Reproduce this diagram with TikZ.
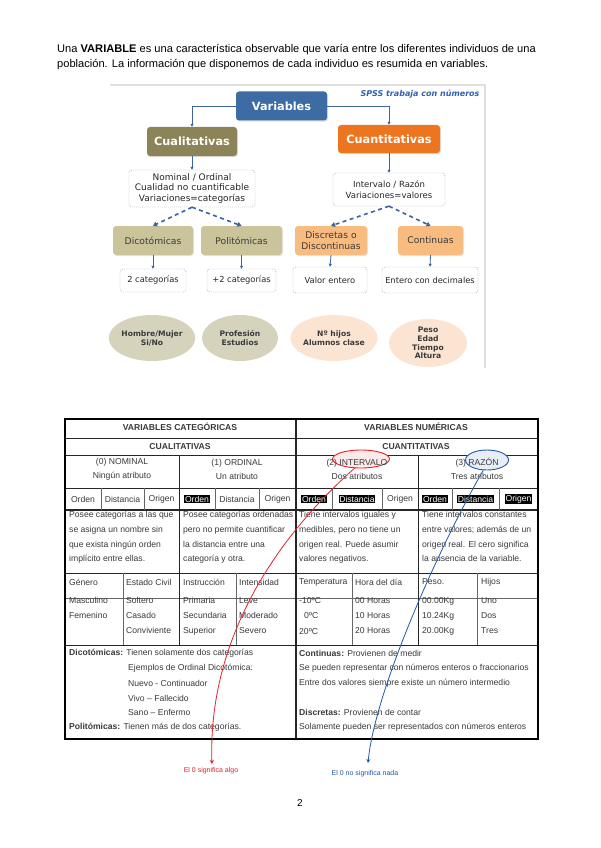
\documentclass[tikz,border=0pt]{standalone}
\usepackage{fontspec}
\setmainfont{Liberation Sans}
\newfontfamily\verd{DejaVu Sans}
\usetikzlibrary{arrows.meta,shapes.geometric,shadows}
\definecolor{varblue}{HTML}{3D6CA5}
\definecolor{olive}{HTML}{8C8358}
\definecolor{orng}{HTML}{EE7520}
\definecolor{lolive}{HTML}{CBC49B}
\definecolor{peach}{HTML}{F9BC80}
\definecolor{eolive}{HTML}{D6D3BD}
\definecolor{epeach}{HTML}{FCE4D2}
\definecolor{arrblue}{HTML}{3B64A0}
\definecolor{tgray}{HTML}{3A3A3A}
\definecolor{spss}{HTML}{3060B0}
\definecolor{annred}{HTML}{E8202A}
\definecolor{annblue}{HTML}{2458A8}
\tikzset{
  mainbox/.style={rounded corners=3pt, text=white, font=\verd\bfseries\fontsize{11.3}{12.5}\selectfont,
    minimum height=29pt, inner sep=1pt, drop shadow={opacity=0.25,shadow xshift=1pt,shadow yshift=-1.2pt}},
  catbox/.style={rounded corners=3pt, text=tgray, font=\verd\fontsize{9.2}{10.5}\selectfont, align=center,
    minimum height=29pt, inner sep=1pt, drop shadow={opacity=0.2,shadow xshift=1pt,shadow yshift=-1pt}},
  dbox/.style={draw=gray!80, dash pattern=on 1pt off 1pt, rounded corners=3pt, fill=white, align=center,
    text=black!85, font=\verd\fontsize{8.3}{9.5}\selectfont, inner sep=1pt},
  ell/.style={ellipse, align=center, inner sep=0pt, text=tgray, font=\verd\bfseries\fontsize{7.6}{9}\selectfont},
  conn/.style={draw=arrblue, line width=0.8pt, -{Triangle[length=3pt,width=3pt]}},
  dconn/.style={draw=arrblue, line width=1.6pt, dash pattern=on 4pt off 3.5pt, -{Triangle[length=4pt,width=5pt]}},
  tt/.style={text=tgray, font=\fontsize{8.6}{10}\selectfont, inner sep=0pt},
  tw/.style={tt, anchor=west},
  th/.style={tt, font=\bfseries\fontsize{8.6}{10}\selectfont},
  hl/.style={tt, fill=black, text=white, inner sep=0.8pt},
  grid/.style={draw=black!85, line width=0.9pt},
  sgrid/.style={draw=black!60, line width=0.7pt}
}
\begin{document}
\begin{tikzpicture}[x=1pt,y=-1pt]
\useasboundingbox[fill=white] (0,0) rectangle (600,848);

% ---------- paragraph ----------
\node[anchor=west, inner sep=0pt, font=\fontsize{11.1}{13}\selectfont] (p1) at (57,50)
  {Una \textbf{VARIABLE} es una característica observable que varía entre los diferentes individuos de una};
\node[anchor=west, inner sep=0pt, font=\fontsize{11.1}{13}\selectfont] (p2) at (57,65)
  {población. La información que disponemos de cada individuo es resumida en variables.};

% ---------- top diagram ----------
\draw[gray!25, line width=1.5pt] (110,85) -- (485,85) -- (485,368);
\node[font=\verd\bfseries\itshape\fontsize{8}{9}\selectfont, text=spss, inner sep=0pt] (spss) at (420,94) {SPSS trabaja con números};

\node[mainbox, fill=varblue, minimum width=91pt] (var) at (281.5,106) {Variables};
\node[mainbox, fill=olive, minimum width=90pt] (cual) at (192,141.5) {Cualitativas};
\node[mainbox, fill=orng, minimum width=102pt, minimum height=28pt] (cuan) at (389,139) {Cuantitativas};
\draw[conn] (var.west) -| (cual.north);
\draw[conn] (var.east) -| (cuan.north);

\node[dbox, minimum width=126pt, minimum height=37pt, font=\verd\fontsize{9}{10.3}\selectfont] (d1) at (192,188.5)
  {Nominal / Ordinal\\Cualidad no cuantificable\\Variaciones=categorías};
\node[dbox, minimum width=112pt, minimum height=33pt, font=\verd\fontsize{8.5}{10.8}\selectfont] (d2) at (389,189.5)
  {Intervalo / Razón\\Variaciones=valores};
\draw[conn] (cual.south) -- (d1.north);
\draw[conn] (cuan.south) -- (d2.north);

\node[catbox, fill=lolive, minimum width=80pt] (dico) at (153,240.5) {Dicotómicas};
\node[catbox, fill=lolive, minimum width=81pt] (poli) at (241.5,240.5) {Politómicas};
\node[catbox, fill=peach, minimum width=72pt] (disc) at (331,240.5) {Discretas o\\Discontinuas};
\node[catbox, fill=peach, minimum width=65pt] (cont) at (430.5,240.5) {Continuas};
\draw[dconn] (d1.south) -- (dico.north);
\draw[dconn] (d1.south) -- (poli.north);
\draw[dconn] (d2.south) -- (disc.north);
\draw[dconn] (d2.south) -- (cont.north);

\node[dbox, minimum width=66pt, minimum height=23pt] (c2) at (153,280.5) {2 categorías};
\node[dbox, minimum width=69pt, minimum height=23pt] (c3) at (241.5,280.5) {+2 categorías};
\node[dbox, minimum width=74pt, minimum height=26pt] (ve) at (330,280) {Valor entero};
\node[dbox, minimum width=96pt, minimum height=26pt] (ed) at (430,280) {Entero con decimales};
\draw[conn] (dico.south) -- (c2.north);
\draw[conn] (poli.south) -- (c3.north);
\draw[conn] (disc.south) -- (ve.north);
\draw[conn] (cont.south) -- (ed.north);

\node[ell, fill=eolive, minimum width=76pt, minimum height=46pt] (e1) at (152,338) {Hombre/Mujer\\Si/No};
\node[ell, fill=eolive, minimum width=76pt, minimum height=46pt] (e2) at (240,338) {Profesión\\Estudios};
\node[ell, fill=epeach, minimum width=78pt, minimum height=46pt] (e3) at (334,338) {Nº hijos\\Alumnos clase};
\node[ell, fill=epeach, minimum width=78pt, minimum height=48pt, font=\verd\bfseries\fontsize{7.6}{8.6}\selectfont] (e4) at (428,343) {Peso\\Edad\\Tiempo\\Altura};

% ---------- table grid ----------
\draw[grid] (65,438) -- (538,438);
\draw[grid] (65,455) -- (538,455);
\draw[grid] (65,488) -- (538,488);
\draw[grid, line width=1.4pt] (65,510) -- (538,510);
\draw[grid] (65,573) -- (538,573);
\draw[sgrid] (65,598) -- (538,598);
\draw[grid] (65,645) -- (538,645);
\draw[grid, line width=1.4pt] (296,419) -- (296,739);
\draw[grid] (179,455) -- (179,645);
\draw[grid] (418,455) -- (418,645);
\foreach \xx in {101,144,215,259,332,382,452,499} \draw[sgrid] (\xx,488) -- (\xx,510);
\foreach \xx in {123,236,352,477} \draw[sgrid] (\xx,573) -- (\xx,645);
\draw[black, line width=2.6pt] (65,419) rectangle (538,739);

% ---------- annotation ellipses (under text) ----------
\node[draw=annred, fill=annred!10, line width=0.9pt, ellipse, minimum width=57pt, minimum height=18pt, inner sep=0pt] (redell) at (361,459) {};
\node[draw=annblue, fill=annblue!10, line width=0.9pt, ellipse, minimum width=43pt, minimum height=20pt, inner sep=0pt] (blueell) at (487,460) {};

% ---------- table text ----------
\node[th] (h1) at (180,427) {VARIABLES CATEGÓRICAS};
\node[th] (h2) at (416,427) {VARIABLES NUMÉRICAS};
\node[th] (h3) at (180,447) {CUALITATIVAS};
\node[th] (h4) at (416,447) {CUANTITATIVAS};
\node[tt, align=center, font=\fontsize{8.6}{14}\selectfont] (n0) at (122,469) {(0) NOMINAL\\Ningún atributo};
\node[tt, align=center, font=\fontsize{8.6}{14}\selectfont] (n1) at (237,469) {(1) ORDINAL\\Un atributo};
\node[tt, align=center, font=\fontsize{8.6}{14}\selectfont] (n2) at (357,469) {(2) INTERVALO\\Dos atributos};
\node[tt, align=center, font=\fontsize{8.6}{14}\selectfont] (n3) at (477,469) {(3) RAZÓN\\Tres atributos};

\node[tt] (o1) at (83,499) {Orden};
\node[tt] (o2) at (122.5,499) {Distancia};
\node[tt] (o3) at (161.5,499) {Origen};
\node[hl] (o4) at (197,499) {Orden};
\node[tt] (o5) at (237,499) {Distancia};
\node[tt] (o6) at (277.5,499) {Origen};
\node[hl] (o7) at (314,499) {Orden};
\node[hl] (o8) at (357,499) {Distancia};
\node[tt] (o9) at (400,499) {Origen};
\node[hl] (o10) at (435,499) {Orden};
\node[hl] (o11) at (475.5,499) {Distancia};
\node[hl] (o12) at (518.5,499) {Origen};

\node[tw, align=left, font=\fontsize{8.6}{14.8}\selectfont, anchor=north west] (ds1) at (69,511)
  {Posee categorías a las que\\se asigna un nombre sin\\que exista ningún orden\\implícito entre ellas.};
\node[tw, align=left, font=\fontsize{8.6}{14.8}\selectfont, anchor=north west] (ds2) at (183,511)
  {Posee categorías ordenadas\\pero no permite cuantificar\\la distancia entre una\\categoría y otra.};
\node[tw, align=left, font=\fontsize{8.6}{14.8}\selectfont, anchor=north west] (ds3) at (299,511)
  {Tiene intervalos iguales y\\medibles, pero no tiene un\\origen real. Puede asumir\\valores negativos.};
\node[tw, align=left, font=\fontsize{8.6}{14.8}\selectfont, anchor=north west] (ds4) at (422,511)
  {Tiene intervalos constantes\\entre valores; además de un\\origen real. El cero significa\\la ausencia de la variable.};

\node[tw] (g1) at (69,582) {Género};
\node[tw] (g2) at (126,582) {Estado Civil};
\node[tw] (g3) at (183,582) {Instrucción};
\node[tw] (g4) at (239,582) {Intensidad};
\node[tw] (g5) at (299,582) {Temperatura};
\node[tw] (g6) at (355,582) {Hora del día};
\node[tw] (g7) at (422,582) {Peso.};
\node[tw] (g8) at (481,582) {Hijos};

\node[tw, align=left, font=\fontsize{8.6}{15}\selectfont, anchor=north west] (v1) at (69,597) {Masculino\\Femenino};
\node[tw, align=left, font=\fontsize{8.6}{15}\selectfont, anchor=north west] (v2) at (126,597) {Soltero\\Casado\\Conviviente};
\node[tw, align=left, font=\fontsize{8.6}{15}\selectfont, anchor=north west] (v3) at (183,597) {Primaria\\Secundaria\\Superior};
\node[tw, align=left, font=\fontsize{8.6}{15}\selectfont, anchor=north west] (v4) at (239,597) {Leve\\Moderado\\Severo};
\node[tw, align=left, font=\fontsize{8.6}{15.5}\selectfont, anchor=north west] (v5) at (299,597) {-10ºC\\\hspace*{5pt}0ºC\\20ºC};
\node[tw, align=left, font=\fontsize{8.6}{15}\selectfont, anchor=north west] (v6) at (355,597) {00 Horas\\10 Horas\\20 Horas};
\node[tw, align=left, font=\fontsize{8.6}{15}\selectfont, anchor=north west] (v7) at (422,597) {00.00Kg\\10.24Kg\\20.00Kg};
\node[tw, align=left, font=\fontsize{8.6}{15}\selectfont, anchor=north west] (v8) at (481,597) {Uno\\Dos\\Tres};

\node[tw] (b1) at (69,653) {\textbf{Dicotómicas:} Tienen solamente dos categorías};
\node[tw] (b2) at (128,668) {Ejemplos de Ordinal Dicotómica:};
\node[tw] (b3) at (128,683) {Nuevo - Continuador};
\node[tw] (b4) at (128,698) {Vivo – Fallecido};
\node[tw] (b5) at (128,712) {Sano – Enfermo};
\node[tw] (b6) at (69,727) {\textbf{Politómicas:} Tienen más de dos categorías.};

\node[tw] (r1) at (299,653) {\textbf{Continuas:} Provienen de medir};
\node[tw] (r2) at (299,668) {Se pueden representar con números enteros o fraccionarios};
\node[tw] (r3) at (299,683) {Entre dos valores siempre existe un número intermedio};
\node[tw] (r4) at (299,712) {\textbf{Discretas:} Provienen de contar};
\node[tw] (r5) at (299,727) {Solamente pueden ser representados con números enteros};

% ---------- annotation arrows ----------
\coordinate (redtip) at (212,764);
\coordinate (bluetip) at (368,763);
\draw[annred, line width=0.8pt, -{Stealth[length=4pt,width=4pt]}] (redell.235) .. controls (265,548) and (208,650) .. (redtip);
\draw[annblue, line width=0.8pt, -{Stealth[length=4pt,width=4pt]}] (blueell.250) .. controls (440,545) and (375,690) .. (bluetip);
\node[text=annred, font=\fontsize{7}{8}\selectfont, inner sep=0pt] (rl) at (211,771) {El 0 significa algo};
\node[text=annblue, font=\fontsize{7}{8}\selectfont, inner sep=0pt] (bl) at (365,774) {El 0 no significa nada};

\node[font=\fontsize{10}{12}\selectfont, inner sep=0pt] (pg) at (300,803) {2};
\end{tikzpicture}
\end{document}
